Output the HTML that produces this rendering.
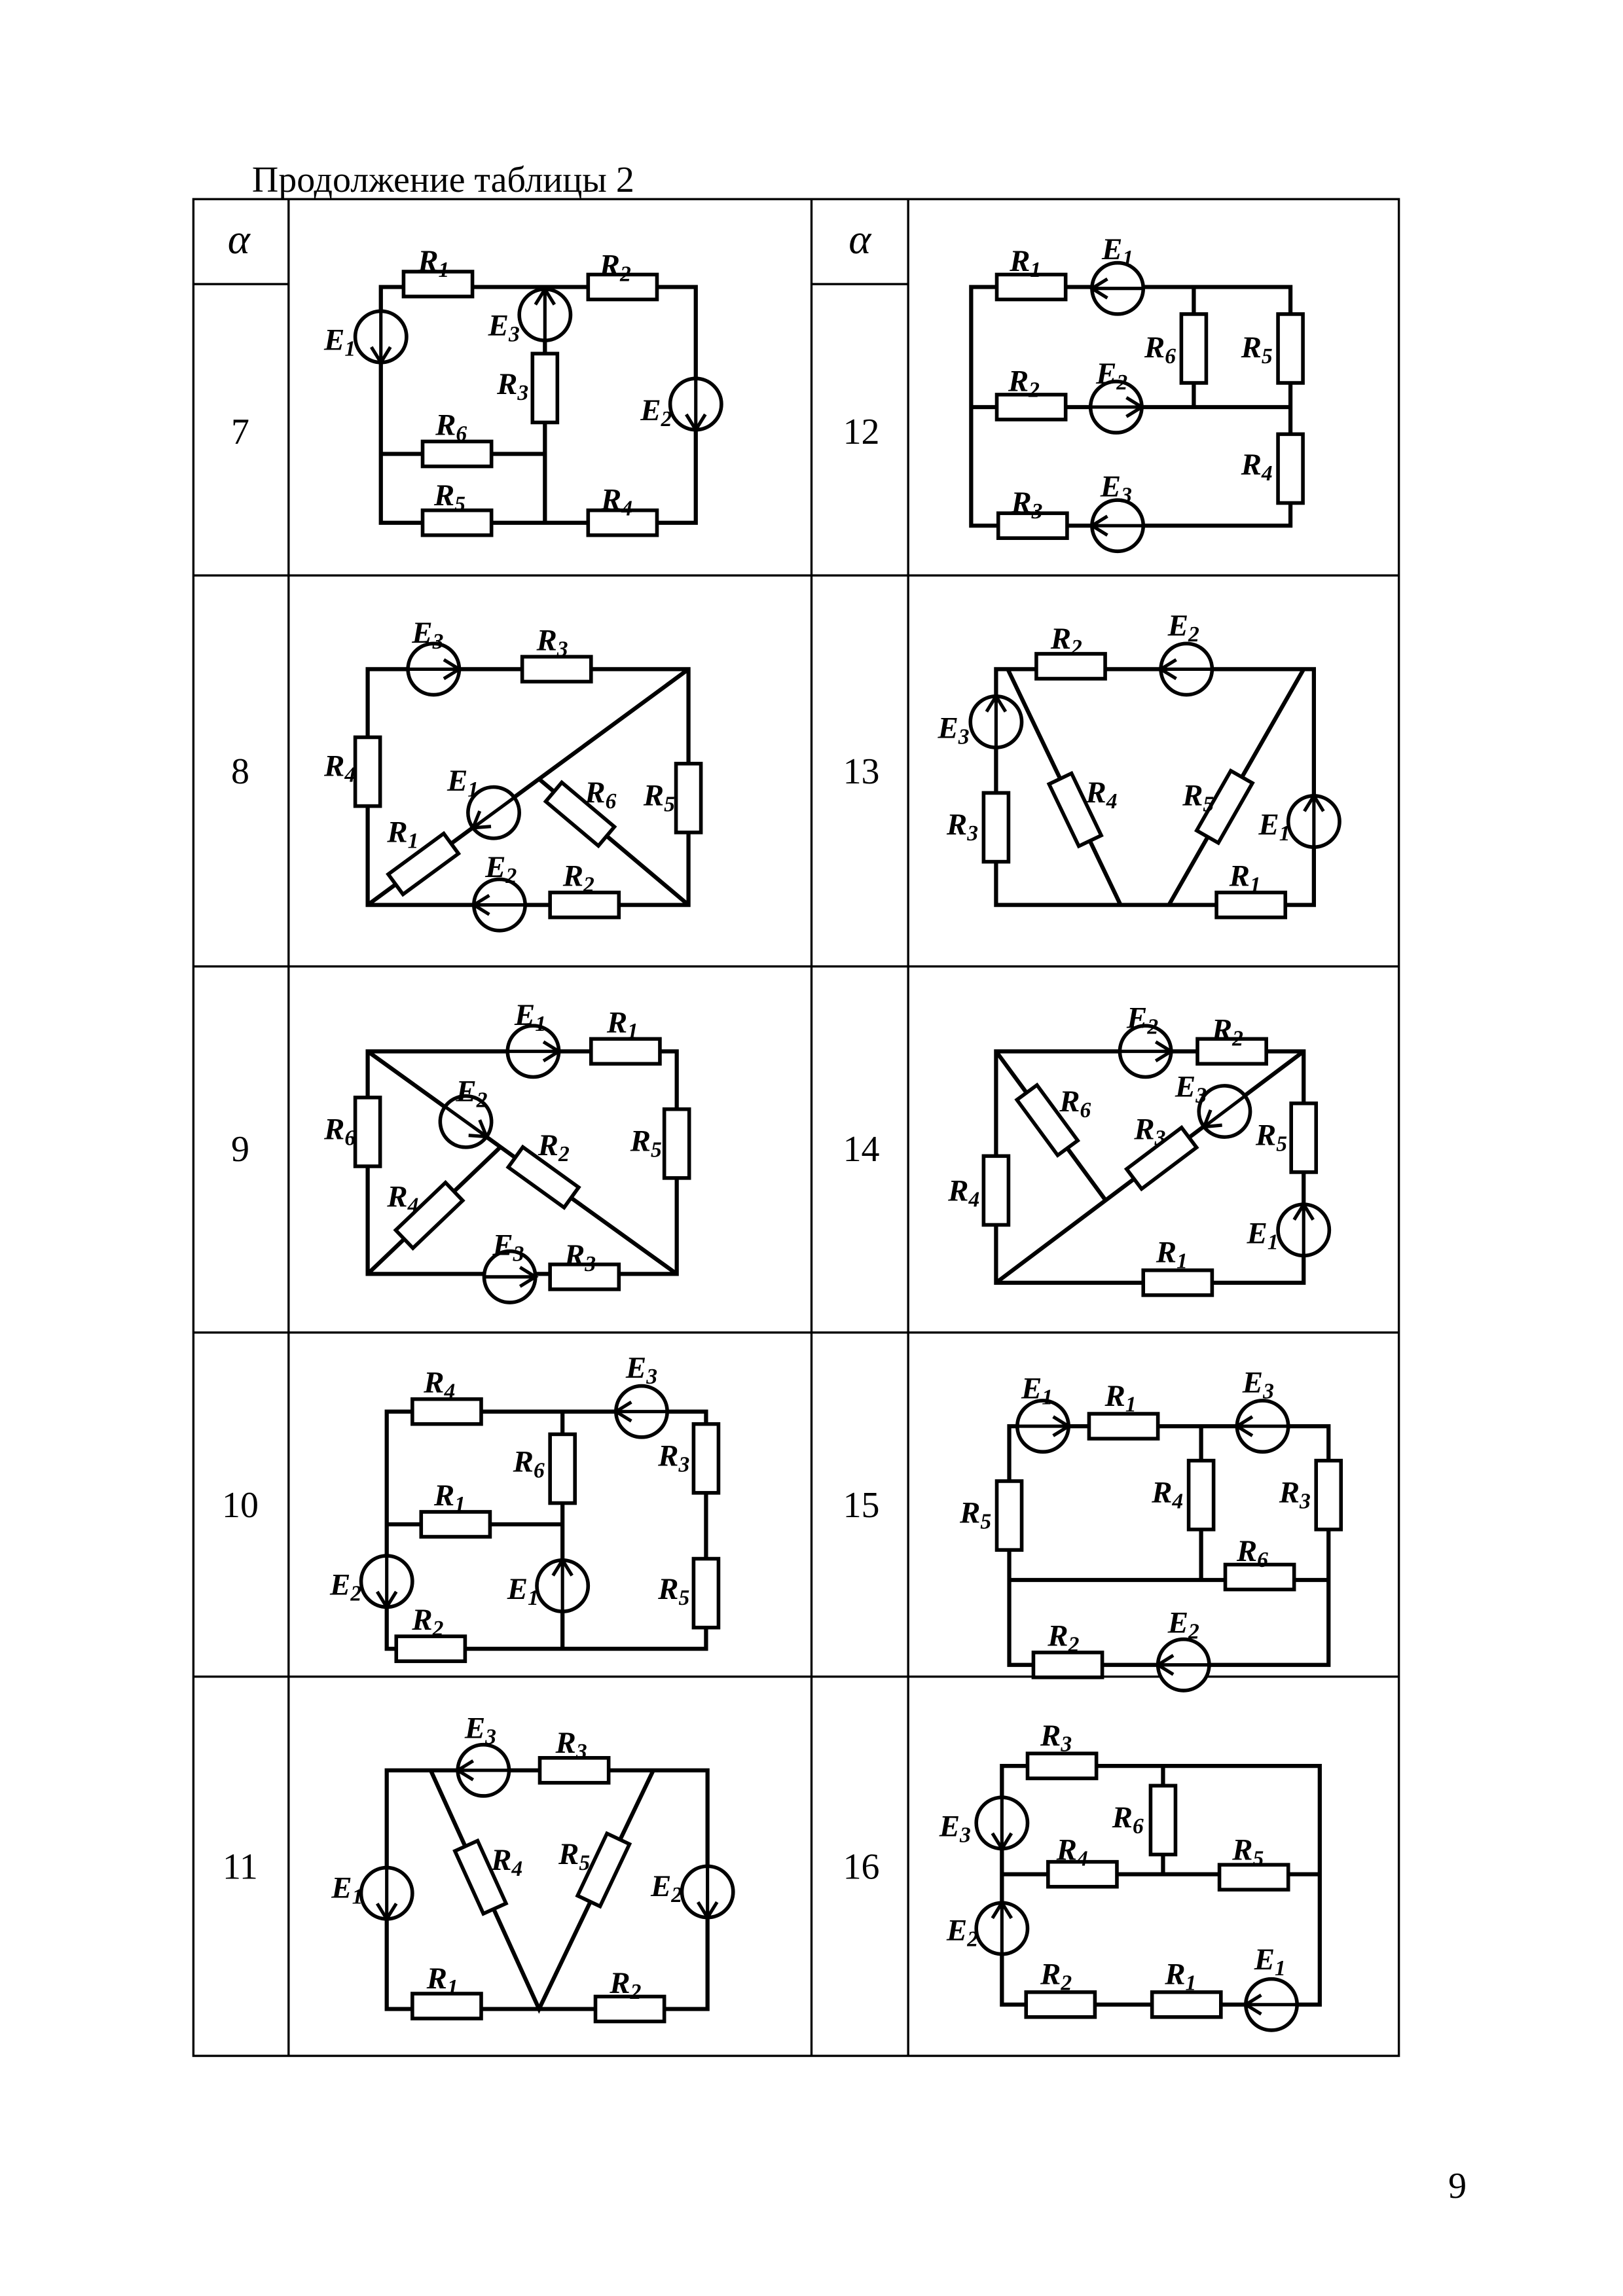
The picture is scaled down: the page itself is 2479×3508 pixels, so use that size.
<!DOCTYPE html>
<html><head><meta charset="utf-8">
<style>
html,body{margin:0;padding:0;background:#fff;}
svg{display:block;}
.w{stroke:#000;stroke-width:2.8;fill:none;stroke-linejoin:miter;}
.t{stroke:#000;stroke-width:1.5;fill:none;}
rect.r{fill:#fff;stroke:#000;stroke-width:2.5;}
.s circle{fill:#fff;stroke:#000;stroke-width:2.5;}
.s line,.s polyline{stroke:#000;stroke-width:2.3;fill:none;}
.l{font-family:"Liberation Serif",serif;font-weight:bold;font-style:italic;font-size:21px;text-anchor:middle;}
.l tspan{font-size:15px;}
.n{font-family:"Liberation Serif",serif;font-size:25px;text-anchor:middle;}
.a{font-family:"Liberation Serif",serif;font-style:italic;font-size:29px;text-anchor:middle;}
</style></head>
<body>
<svg width="2479" height="3508" viewBox="0 0 1108 1568" xmlns="http://www.w3.org/2000/svg">
<defs>
<g id="src" class="s"><circle r="17.5"/><line x1="-17.5" y1="0" x2="17.5" y2="0"/><polyline points="7,-6.5 17.5,0 7,6.5"/></g>
<rect id="rh" class="r" x="-23.5" y="-8.5" width="47" height="17"/>
<rect id="rv" class="r" x="-8.5" y="-23.5" width="17" height="47"/>
</defs>

<text x="172" y="131" style="font-family:'Liberation Serif',serif;font-size:25px;">Продолжение таблицы 2</text>

<!-- table -->
<rect class="t" x="132" y="136" width="823" height="1268"/>
<line class="t" x1="197" y1="136" x2="197" y2="1404"/>
<line class="t" x1="554" y1="136" x2="554" y2="1404"/>
<line class="t" x1="620" y1="136" x2="620" y2="1404"/>
<line class="t" x1="132" y1="194" x2="197" y2="194"/>
<line class="t" x1="554" y1="194" x2="620" y2="194"/>
<line class="t" x1="132" y1="393" x2="955" y2="393"/>
<line class="t" x1="132" y1="660" x2="955" y2="660"/>
<line class="t" x1="132" y1="910" x2="955" y2="910"/>
<line class="t" x1="132" y1="1145" x2="955" y2="1145"/>

<text class="a" x="163" y="173">α</text>
<text class="a" x="587" y="173">α</text>
<text class="n" x="164" y="303">7</text>
<text class="n" x="588" y="303">12</text>
<text class="n" x="164" y="535">8</text>
<text class="n" x="588" y="535">13</text>
<text class="n" x="164" y="793">9</text>
<text class="n" x="588" y="793">14</text>
<text class="n" x="164" y="1036">10</text>
<text class="n" x="588" y="1036">15</text>
<text class="n" x="164" y="1283">11</text>
<text class="n" x="588" y="1283">16</text>

<text class="n" x="995" y="1501">9</text>

<!-- Circuit 7 -->
<path class="w" d="M260 196 H475 V357 H260 Z M372 196 V357 M260 310 H372"/>
<use href="#rh" x="299" y="194"/>
<use href="#rh" x="425" y="196"/>
<use href="#rv" x="372" y="265"/>
<use href="#rh" x="312" y="310"/>
<use href="#rh" x="312" y="357"/>
<use href="#rh" x="425" y="357"/>
<use href="#src" transform="translate(260,230) rotate(90)"/>
<use href="#src" transform="translate(372,215) rotate(-90)"/>
<use href="#src" transform="translate(475,276) rotate(90)"/>
<text class="l" x="296" y="185">R<tspan dy="4">1</tspan></text>
<text class="l" x="420" y="188">R<tspan dy="4">2</tspan></text>
<text class="l" x="232" y="239">E<tspan dy="4">1</tspan></text>
<text class="l" x="344" y="229">E<tspan dy="4">3</tspan></text>
<text class="l" x="350" y="269">R<tspan dy="4">3</tspan></text>
<text class="l" x="448" y="287">E<tspan dy="4">2</tspan></text>
<text class="l" x="308" y="297">R<tspan dy="4">6</tspan></text>
<text class="l" x="307" y="345">R<tspan dy="4">5</tspan></text>
<text class="l" x="421" y="348">R<tspan dy="4">4</tspan></text>

<!-- Circuit 12 -->
<path class="w" d="M663 196 H881 V359 H663 Z M663 278 H881 M815 196 V278"/>
<use href="#rh" x="704" y="196"/>
<use href="#rv" x="815" y="238"/>
<use href="#rv" x="881" y="238"/>
<use href="#rh" x="704" y="278"/>
<use href="#rv" x="881" y="320"/>
<use href="#rh" x="705" y="359"/>
<use href="#src" transform="translate(763,197) rotate(180)"/>
<use href="#src" transform="translate(762,278)"/>
<use href="#src" transform="translate(763,359) rotate(180)"/>
<text class="l" x="700" y="185">R<tspan dy="4">1</tspan></text>
<text class="l" x="763" y="177">E<tspan dy="4">1</tspan></text>
<text class="l" x="792" y="244">R<tspan dy="4">6</tspan></text>
<text class="l" x="858" y="244">R<tspan dy="4">5</tspan></text>
<text class="l" x="699" y="267">R<tspan dy="4">2</tspan></text>
<text class="l" x="759" y="262">E<tspan dy="4">2</tspan></text>
<text class="l" x="858" y="324">R<tspan dy="4">4</tspan></text>
<text class="l" x="701" y="350">R<tspan dy="4">3</tspan></text>
<text class="l" x="762" y="339">E<tspan dy="4">3</tspan></text>

<!-- Circuit 8 -->
<path class="w" d="M251 457 H470 V618 H251 Z M251 618 L470 457 M470 618 L368 532"/>
<use href="#rh" x="380" y="457"/>
<use href="#rv" x="251" y="527"/>
<use href="#rv" x="470" y="545"/>
<use href="#rh" x="399" y="618"/>
<use href="#rh" transform="translate(289,590) rotate(-36.3)"/>
<use href="#rh" transform="translate(396,556) rotate(40.1)"/>
<use href="#src" transform="translate(296,457)"/>
<use href="#src" transform="translate(337,555) rotate(143.7)"/>
<use href="#src" transform="translate(341,618) rotate(180)"/>
<text class="l" x="292" y="439">E<tspan dy="4">3</tspan></text>
<text class="l" x="377" y="444">R<tspan dy="4">3</tspan></text>
<text class="l" x="232" y="530">R<tspan dy="4">4</tspan></text>
<text class="l" x="450" y="550">R<tspan dy="4">5</tspan></text>
<text class="l" x="316" y="540">E<tspan dy="4">1</tspan></text>
<text class="l" x="275" y="575">R<tspan dy="4">1</tspan></text>
<text class="l" x="410" y="548">R<tspan dy="4">6</tspan></text>
<text class="l" x="342" y="599">E<tspan dy="4">2</tspan></text>
<text class="l" x="395" y="605">R<tspan dy="4">2</tspan></text>

<!-- Circuit 13 -->
<path class="w" d="M680 457 H897 V618 H680 Z M688 457 L765 618 M890 457 L798 618"/>
<use href="#rh" x="731" y="455"/>
<use href="#rv" x="680" y="565"/>
<use href="#rh" x="854" y="618"/>
<use href="#rh" transform="translate(734,553) rotate(64.4)"/>
<use href="#rh" transform="translate(836,551) rotate(-60.3)"/>
<use href="#src" transform="translate(810,457) rotate(180)"/>
<use href="#src" transform="translate(680,493) rotate(-90)"/>
<use href="#src" transform="translate(897,561) rotate(-90)"/>
<text class="l" x="728" y="443">R<tspan dy="4">2</tspan></text>
<text class="l" x="808" y="434">E<tspan dy="4">2</tspan></text>
<text class="l" x="651" y="504">E<tspan dy="4">3</tspan></text>
<text class="l" x="657" y="570">R<tspan dy="4">3</tspan></text>
<text class="l" x="752" y="548">R<tspan dy="4">4</tspan></text>
<text class="l" x="818" y="550">R<tspan dy="4">5</tspan></text>
<text class="l" x="870" y="570">E<tspan dy="4">1</tspan></text>
<text class="l" x="850" y="605">R<tspan dy="4">1</tspan></text>

<!-- Circuit 9 -->
<path class="w" d="M251 718 H462 V870 H251 Z M251 718 L462 870 M251 870 L342 783"/>
<use href="#rh" x="427" y="718"/>
<use href="#rv" x="251" y="773"/>
<use href="#rv" x="462" y="781"/>
<use href="#rh" x="399" y="872"/>
<use href="#rh" transform="translate(371,804) rotate(35.8)"/>
<use href="#rh" transform="translate(293,830) rotate(-43.7)"/>
<use href="#src" transform="translate(364,718)"/>
<use href="#src" transform="translate(318,766) rotate(35.8)"/>
<use href="#src" transform="translate(348,872)"/>
<text class="l" x="362" y="700">E<tspan dy="4">1</tspan></text>
<text class="l" x="425" y="705">R<tspan dy="4">1</tspan></text>
<text class="l" x="232" y="778">R<tspan dy="4">6</tspan></text>
<text class="l" x="441" y="786">R<tspan dy="4">5</tspan></text>
<text class="l" x="322" y="752">E<tspan dy="4">2</tspan></text>
<text class="l" x="378" y="789">R<tspan dy="4">2</tspan></text>
<text class="l" x="275" y="824">R<tspan dy="4">4</tspan></text>
<text class="l" x="347" y="857">E<tspan dy="4">3</tspan></text>
<text class="l" x="396" y="864">R<tspan dy="4">3</tspan></text>

<!-- Circuit 14 -->
<path class="w" d="M680 718 H890 V876 H680 Z M680 876 L890 718 M680 718 L755 820"/>
<use href="#rh" x="841" y="718"/>
<use href="#rv" x="680" y="813"/>
<use href="#rv" x="890" y="777"/>
<use href="#rh" x="804" y="876"/>
<use href="#rh" transform="translate(793,791) rotate(-37)"/>
<use href="#rh" transform="translate(715,765) rotate(53.7)"/>
<use href="#src" transform="translate(782,718)"/>
<use href="#src" transform="translate(836,759) rotate(143)"/>
<use href="#src" transform="translate(890,840) rotate(-90)"/>
<text class="l" x="780" y="702">E<tspan dy="4">2</tspan></text>
<text class="l" x="838" y="710">R<tspan dy="4">2</tspan></text>
<text class="l" x="813" y="749">E<tspan dy="4">3</tspan></text>
<text class="l" x="785" y="778">R<tspan dy="4">3</tspan></text>
<text class="l" x="734" y="759">R<tspan dy="4">6</tspan></text>
<text class="l" x="658" y="820">R<tspan dy="4">4</tspan></text>
<text class="l" x="868" y="782">R<tspan dy="4">5</tspan></text>
<text class="l" x="862" y="849">E<tspan dy="4">1</tspan></text>
<text class="l" x="800" y="862">R<tspan dy="4">1</tspan></text>

<!-- Circuit 10 -->
<path class="w" d="M264 964 H482 V1126 H264 Z M384 964 V1126 M264 1041 H384"/>
<use href="#rh" x="305" y="964"/>
<use href="#rv" x="384" y="1003"/>
<use href="#rh" x="311" y="1041"/>
<use href="#rh" x="294" y="1126"/>
<use href="#rv" x="482" y="996"/>
<use href="#rv" x="482" y="1088"/>
<use href="#src" transform="translate(438,964) rotate(180)"/>
<use href="#src" transform="translate(264,1080) rotate(90)"/>
<use href="#src" transform="translate(384,1083) rotate(-90)"/>
<text class="l" x="300" y="951">R<tspan dy="4">4</tspan></text>
<text class="l" x="438" y="941">E<tspan dy="4">3</tspan></text>
<text class="l" x="361" y="1005">R<tspan dy="4">6</tspan></text>
<text class="l" x="307" y="1028">R<tspan dy="4">1</tspan></text>
<text class="l" x="236" y="1089">E<tspan dy="4">2</tspan></text>
<text class="l" x="357" y="1092">E<tspan dy="4">1</tspan></text>
<text class="l" x="292" y="1113">R<tspan dy="4">2</tspan></text>
<text class="l" x="460" y="1001">R<tspan dy="4">3</tspan></text>
<text class="l" x="460" y="1092">R<tspan dy="4">5</tspan></text>

<!-- Circuit 15 -->
<path class="w" d="M689 974 H907 V1137 H689 Z M689 1079 H907 M820 974 V1079"/>
<use href="#rh" x="767" y="974"/>
<use href="#rv" x="820" y="1021"/>
<use href="#rv" x="907" y="1021"/>
<use href="#rv" x="689" y="1035"/>
<use href="#rh" x="860" y="1077"/>
<use href="#rh" x="729" y="1137"/>
<use href="#src" transform="translate(712,974)"/>
<use href="#src" transform="translate(862,974) rotate(180)"/>
<use href="#src" transform="translate(808,1137) rotate(180)"/>
<text class="l" x="708" y="955">E<tspan dy="4">1</tspan></text>
<text class="l" x="765" y="960">R<tspan dy="4">1</tspan></text>
<text class="l" x="859" y="951">E<tspan dy="4">3</tspan></text>
<text class="l" x="797" y="1026">R<tspan dy="4">4</tspan></text>
<text class="l" x="884" y="1026">R<tspan dy="4">3</tspan></text>
<text class="l" x="666" y="1040">R<tspan dy="4">5</tspan></text>
<text class="l" x="855" y="1066">R<tspan dy="4">6</tspan></text>
<text class="l" x="726" y="1124">R<tspan dy="4">2</tspan></text>
<text class="l" x="808" y="1115">E<tspan dy="4">2</tspan></text>

<!-- Circuit 11 -->
<path class="w" d="M264 1209 H483 V1372 H264 Z M294 1209 L368 1372 L446 1209"/>
<use href="#rh" x="392" y="1209"/>
<use href="#rh" x="305" y="1370"/>
<use href="#rh" x="430" y="1372"/>
<use href="#rh" transform="translate(328,1282) rotate(65.6)"/>
<use href="#rh" transform="translate(412,1277) rotate(-64.7)"/>
<use href="#src" transform="translate(330,1209) rotate(180)"/>
<use href="#src" transform="translate(264,1293) rotate(90)"/>
<use href="#src" transform="translate(483,1292) rotate(90)"/>
<text class="l" x="328" y="1187">E<tspan dy="4">3</tspan></text>
<text class="l" x="390" y="1197">R<tspan dy="4">3</tspan></text>
<text class="l" x="237" y="1296">E<tspan dy="4">1</tspan></text>
<text class="l" x="455" y="1295">E<tspan dy="4">2</tspan></text>
<text class="l" x="346" y="1277">R<tspan dy="4">4</tspan></text>
<text class="l" x="392" y="1273">R<tspan dy="4">5</tspan></text>
<text class="l" x="302" y="1358">R<tspan dy="4">1</tspan></text>
<text class="l" x="427" y="1361">R<tspan dy="4">2</tspan></text>

<!-- Circuit 16 -->
<path class="w" d="M684 1206 H901 V1369 H684 Z M684 1280 H901 M794 1206 V1280"/>
<use href="#rh" x="725" y="1206"/>
<use href="#rv" x="794" y="1243"/>
<use href="#rh" x="739" y="1280"/>
<use href="#rh" x="856" y="1282"/>
<use href="#rh" x="724" y="1369"/>
<use href="#rh" x="810" y="1369"/>
<use href="#src" transform="translate(684,1245) rotate(90)"/>
<use href="#src" transform="translate(684,1317) rotate(-90)"/>
<use href="#src" transform="translate(868,1369) rotate(180)"/>
<text class="l" x="721" y="1192">R<tspan dy="4">3</tspan></text>
<text class="l" x="770" y="1248">R<tspan dy="4">6</tspan></text>
<text class="l" x="732" y="1270">R<tspan dy="4">4</tspan></text>
<text class="l" x="852" y="1270">R<tspan dy="4">5</tspan></text>
<text class="l" x="652" y="1254">E<tspan dy="4">3</tspan></text>
<text class="l" x="657" y="1325">E<tspan dy="4">2</tspan></text>
<text class="l" x="721" y="1355">R<tspan dy="4">2</tspan></text>
<text class="l" x="806" y="1355">R<tspan dy="4">1</tspan></text>
<text class="l" x="867" y="1345">E<tspan dy="4">1</tspan></text>
</svg>
</body></html>
